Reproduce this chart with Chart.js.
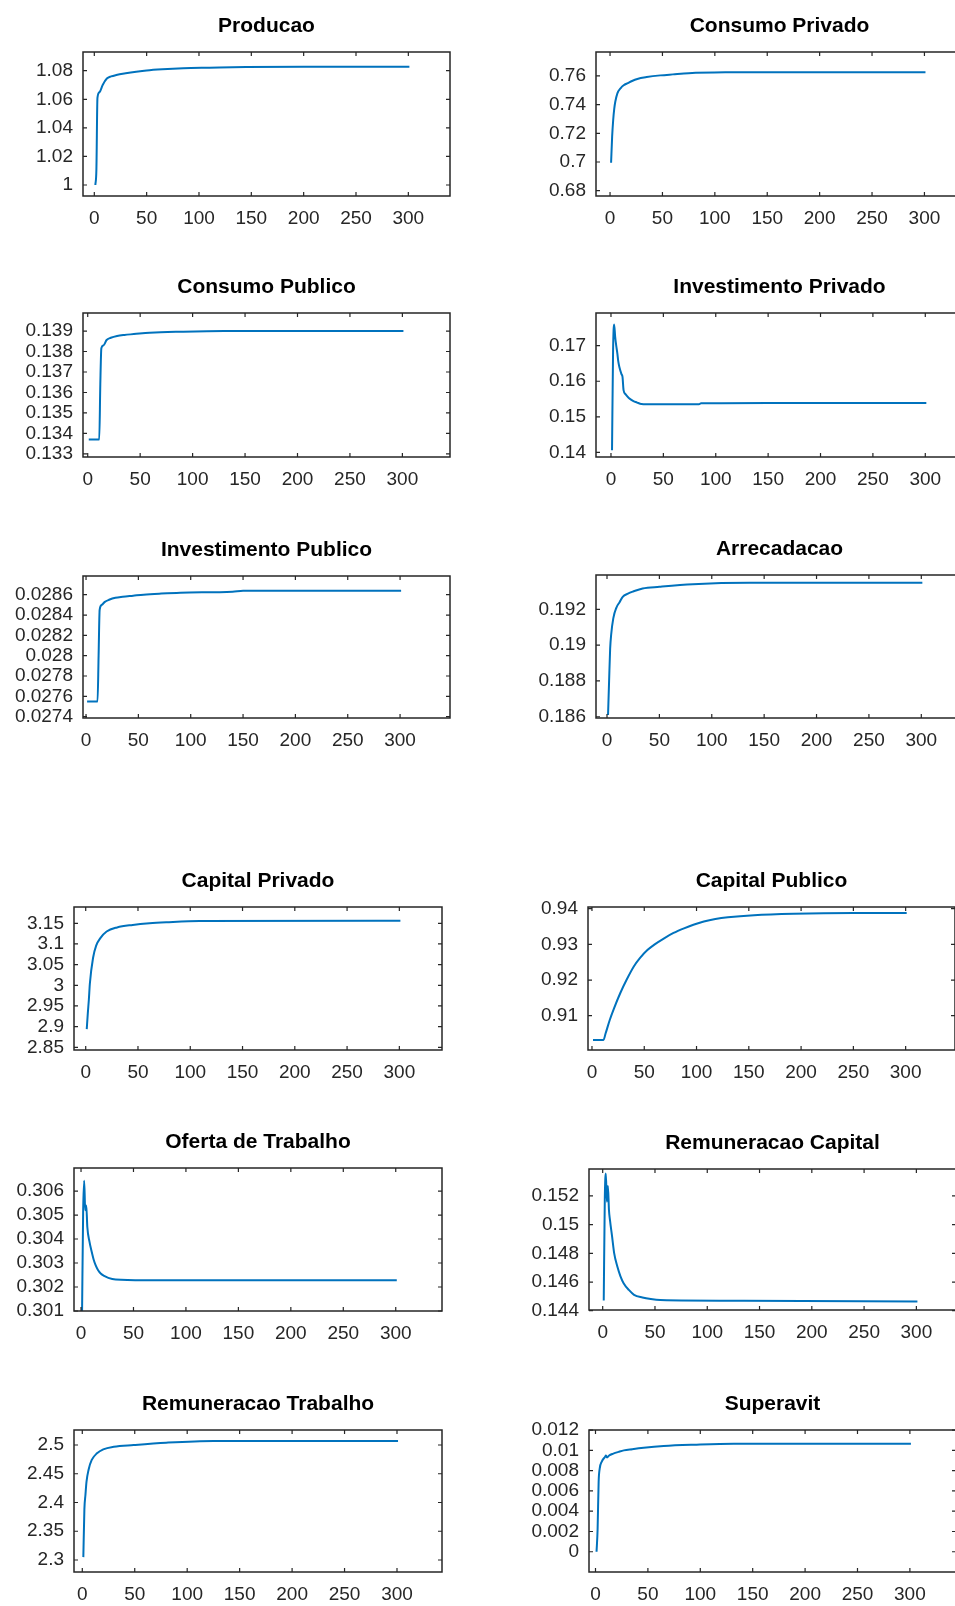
<!DOCTYPE html>
<html>
<head>
<meta charset="utf-8">
<title>Simulacao</title>
<script src="https://cdn.jsdelivr.net/npm/chart.js@4/dist/chart.umd.min.js"></script>
<style>
  html, body { margin: 0; padding: 0; background: #fff; overflow: hidden; }
  #page { position: relative; width: 955px; height: 1606px; overflow: hidden; }
  canvas { position: absolute; }
</style>
</head>
<body>
<div id="page"></div>
<script>
// periods on the x axis, same for every panel
var xTicks = [0, 50, 100, 150, 200, 250, 300];

// series (period, level)
var producaoX = [1, 2, 3, 5, 8, 12, 16, 21, 30, 40, 50, 65, 85, 110, 145, 200, 301];
var producaoY = [1.000, 1.011, 1.061, 1.065, 1.070, 1.0745, 1.0760, 1.0770, 1.0782, 1.0793, 1.0802, 1.0810, 1.0817, 1.0821, 1.0826, 1.0828, 1.0828];
var producaoTicks = [1, 1.02, 1.04, 1.06, 1.08];

var consumoPrivadoX = [1, 2, 3, 4, 5, 7, 10, 13, 17, 21, 26, 35, 48, 60, 75, 110, 150, 301];
var consumoPrivadoY = [0.6995, 0.7177, 0.7293, 0.7370, 0.7420, 0.7479, 0.7514, 0.7535, 0.7550, 0.7565, 0.7579, 0.7592, 0.7604, 0.7611, 0.7619, 0.7625, 0.7626, 0.7626];
var consumoPrivadoTicks = [0.68, 0.7, 0.72, 0.74, 0.76];

var consumoPublicoX = [1, 11, 12, 13, 15, 18, 22, 28, 35, 44, 59, 91, 130, 301];
var consumoPublicoY = [0.1337, 0.1337, 0.1364, 0.13816, 0.1383, 0.13856, 0.13867, 0.13876, 0.13881, 0.13885, 0.13892, 0.13897, 0.1390, 0.1390];
var consumoPublicoTicks = [0.133, 0.134, 0.135, 0.136, 0.137, 0.138, 0.139];

var investPrivadoX = [1, 2, 3, 4, 5, 6, 7, 8, 10, 11, 12, 14, 17, 21, 25, 29, 40, 60, 84, 86, 150, 301];
var investPrivadoY = [0.1406, 0.1686, 0.1760, 0.1725, 0.1700, 0.1680, 0.1655, 0.1640, 0.1620, 0.1612, 0.1575, 0.1563, 0.1553, 0.1545, 0.1540, 0.1536, 0.1535, 0.1535, 0.1535, 0.1538, 0.1539, 0.1539];
var investPrivadoTicks = [0.14, 0.15, 0.16, 0.17];

var investPublicoX = [1, 11, 12, 13, 15, 18, 22, 28, 35, 45, 55, 70, 90, 140, 150, 301];
var investPublicoY = [0.02755, 0.02755, 0.0280, 0.02845, 0.0285, 0.02853, 0.02855, 0.02857, 0.02858, 0.02859, 0.0286, 0.02861, 0.02862, 0.02863, 0.02864, 0.02864];
var investPublicoTicks = [0.0274, 0.0276, 0.0278, 0.028, 0.0282, 0.0284, 0.0286];

var arrecadacaoX = [1, 2, 3, 4, 6, 9, 12, 15, 20, 25, 34, 50, 82, 136, 301];
var arrecadacaoY = [0.1861, 0.1880, 0.1898, 0.1906, 0.1915, 0.1921, 0.1924, 0.1927, 0.19288, 0.1930, 0.19317, 0.19326, 0.1934, 0.19348, 0.19348];
var arrecadacaoTicks = [0.186, 0.188, 0.19, 0.192];

var capitalPrivadoX = [1, 2, 3, 4, 7, 10, 14, 20, 30, 45, 61, 77, 109, 301];
var capitalPrivadoY = [2.894, 2.932, 2.965, 3.005, 3.066, 3.096, 3.114, 3.130, 3.140, 3.146, 3.150, 3.1524, 3.1556, 3.1563];
var capitalPrivadoTicks = [2.85, 2.9, 2.95, 3, 3.05, 3.1, 3.15];

var capitalPublicoX = [1, 11, 13, 17, 21, 27, 33, 40, 46, 53, 60, 69, 78, 88, 97, 107, 118, 130, 155, 193, 250, 301];
var capitalPublicoY = [0.9032, 0.9032, 0.9050, 0.9088, 0.9120, 0.9163, 0.9200, 0.9238, 0.9262, 0.9284, 0.9300, 0.9317, 0.9332, 0.9345, 0.9355, 0.9364, 0.9371, 0.9376, 0.9382, 0.9386, 0.9388, 0.9388];
var capitalPublicoTicks = [0.91, 0.92, 0.93, 0.94];

var ofertaX = [1, 2, 3, 4, 5, 6, 8, 10, 12, 14, 16, 19, 22, 26, 33, 60, 301];
var ofertaY = [0.3010, 0.3051, 0.30643, 0.30520, 0.30540, 0.3045, 0.3039, 0.3035, 0.30315, 0.3029, 0.30272, 0.30255, 0.30246, 0.30238, 0.30231, 0.30228, 0.30228];
var ofertaTicks = [0.301, 0.302, 0.303, 0.304, 0.305, 0.306];

var remCapitalX = [1, 2, 3, 4, 5, 6, 7, 9, 11, 14, 17, 20, 25, 30, 38, 46, 55, 135, 301];
var remCapitalY = [0.14472, 0.15172, 0.15357, 0.1516, 0.1527, 0.1510, 0.1503, 0.14917, 0.1480, 0.14708, 0.1464, 0.14592, 0.14545, 0.14511, 0.14492, 0.14481, 0.14474, 0.14469, 0.14465];
var remCapitalTicks = [0.144, 0.146, 0.148, 0.15, 0.152];

var remTrabalhoX = [1, 2, 3, 4, 6, 9, 14, 20, 30, 49, 80, 125, 301];
var remTrabalhoY = [2.305, 2.388, 2.413, 2.436, 2.457, 2.474, 2.4855, 2.4925, 2.497, 2.500, 2.504, 2.507, 2.507];
var remTrabalhoTicks = [2.3, 2.35, 2.4, 2.45, 2.5];

var superavitX = [1, 2, 3, 4, 6, 9, 10, 11, 13, 17, 22, 27, 35, 46, 65, 94, 132, 301];
var superavitY = [0.0, 0.0022, 0.0069, 0.0082, 0.0089, 0.00935, 0.0095, 0.0093, 0.0095, 0.00968, 0.00985, 0.0100, 0.01012, 0.01026, 0.01043, 0.01056, 0.01066, 0.01066];
var superavitTicks = [0, 0.002, 0.004, 0.006, 0.008, 0.01, 0.012];

// plot boxes: left/top/width/height in page px, axis limits
var panels = [
  { title: 'Producao', xs: producaoX, ys: producaoY, yt: producaoTicks,
    left: 83, top: 52, w: 367, h: 144, xmin: -10.8, xmax: 339.8, ymin: 0.9923, ymax: 1.0931 },
  { title: 'Consumo Privado', xs: consumoPrivadoX, ys: consumoPrivadoY, yt: consumoPrivadoTicks,
    left: 596, top: 52, w: 367, h: 144, xmin: -13.4, xmax: 336.8, ymin: 0.6763, ymax: 0.7767 },
  { title: 'Consumo Publico', xs: consumoPublicoX, ys: consumoPublicoY, yt: consumoPublicoTicks,
    left: 83, top: 313, w: 367, h: 144, xmin: -4.5, xmax: 345.4, ymin: 0.13285, ymax: 0.13988 },
  { title: 'Investimento Privado', xs: investPrivadoX, ys: investPrivadoY, yt: investPrivadoTicks,
    left: 596, top: 313, w: 367, h: 144, xmin: -14.3, xmax: 336, ymin: 0.13868, ymax: 0.17921 },
  { title: 'Investimento Publico', xs: investPublicoX, ys: investPublicoY, yt: investPublicoTicks,
    left: 83, top: 576, w: 367, h: 142, xmin: -2.9, xmax: 347.7, ymin: 0.027387, ymax: 0.028784 },
  { title: 'Arrecadacao', xs: arrecadacaoX, ys: arrecadacaoY, yt: arrecadacaoTicks,
    left: 596, top: 575, w: 367, h: 143, xmin: -10.5, xmax: 339.8, ymin: 0.18593, ymax: 0.19392 },
  { title: 'Capital Privado', xs: capitalPrivadoX, ys: capitalPrivadoY, yt: capitalPrivadoTicks,
    left: 74, top: 907, w: 368, h: 143, xmin: -11.2, xmax: 340.8, ymin: 2.8435, ymax: 3.1894 },
  { title: 'Capital Publico', xs: capitalPublicoX, ys: capitalPublicoY, yt: capitalPublicoTicks,
    left: 588, top: 907, w: 367, h: 143, xmin: -3.8, xmax: 347.2, ymin: 0.90039, ymax: 0.94048 },
  { title: 'Oferta de Trabalho', xs: ofertaX, ys: ofertaY, yt: ofertaTicks,
    left: 74, top: 1168, w: 368, h: 143, xmin: -6.7, xmax: 344.1, ymin: 0.301, ymax: 0.30696 },
  { title: 'Remuneracao Capital', xs: remCapitalX, ys: remCapitalY, yt: remCapitalTicks,
    left: 589, top: 1169, w: 367, h: 141, xmin: -13.1, xmax: 337.9, ymin: 0.14405, ymax: 0.15388 },
  { title: 'Remuneracao Trabalho', xs: remTrabalhoX, ys: remTrabalhoY, yt: remTrabalhoTicks,
    left: 74, top: 1430, w: 368, h: 142, xmin: -7.9, xmax: 342.9, ymin: 2.2791, ymax: 2.5261 },
  { title: 'Superavit', xs: superavitX, ys: superavitY, yt: superavitTicks,
    left: 589, top: 1430, w: 367, h: 142, xmin: -6.2, xmax: 344, ymin: -0.001997, ymax: 0.01201 }
];

var YW = 80, TH = 42, XH = 40, RP = 4;
var INK = '#262626';

// octave style box with inward ticks on all four sides
var boxPlugin = {
  id: 'box',
  afterDraw: function(chart) {
    var ctx = chart.ctx, a = chart.chartArea;
    var sx = chart.scales.x, sy = chart.scales.y;
    ctx.save();
    ctx.strokeStyle = INK;
    ctx.lineWidth = 1.5;
    ctx.strokeRect(a.left, a.top, a.right - a.left, a.bottom - a.top);
    ctx.beginPath();
    sx.ticks.forEach(function(t) {
      var px = sx.getPixelForValue(t.value);
      ctx.moveTo(px, a.bottom); ctx.lineTo(px, a.bottom - 4);
      ctx.moveTo(px, a.top); ctx.lineTo(px, a.top + 4);
    });
    sy.ticks.forEach(function(t) {
      var py = sy.getPixelForValue(t.value);
      ctx.moveTo(a.left, py); ctx.lineTo(a.left + 4, py);
      ctx.moveTo(a.right, py); ctx.lineTo(a.right - 4, py);
    });
    ctx.lineWidth = 1.2;
    ctx.stroke();
    ctx.restore();
  }
};

var page = document.getElementById('page');

panels.forEach(function(p) {
  var cv = document.createElement('canvas');
  cv.width = YW + p.w + RP;
  cv.height = TH + p.h + XH;
  cv.style.left = (p.left - YW) + 'px';
  cv.style.top = (p.top - TH) + 'px';
  page.appendChild(cv);

  var pts = p.xs.map(function(x, i) { return { x: x, y: p.ys[i] }; });

  new Chart(cv.getContext('2d'), {
    type: 'line',
    data: {
      datasets: [{
        data: pts,
        borderColor: '#0072BD',
        borderWidth: 2,
        pointRadius: 0,
        cubicInterpolationMode: 'monotone',
        fill: false
      }]
    },
    options: {
      responsive: false,
      animation: false,
      devicePixelRatio: 1,
      layout: { padding: { left: 0, right: RP, top: 0, bottom: 0 } },
      plugins: {
        legend: { display: false },
        tooltip: { enabled: false },
        title: {
          display: true,
          text: p.title,
          fullSize: false,
          color: '#000',
          font: { family: 'Liberation Sans', size: 21, weight: 'bold', lineHeight: '24px' },
          padding: { top: 4, bottom: 14 }
        }
      },
      scales: {
        x: {
          type: 'linear',
          min: p.xmin,
          max: p.xmax,
          grid: { display: false, drawTicks: false },
          border: { display: false },
          afterBuildTicks: function(s) { s.ticks = xTicks.map(function(v) { return { value: v }; }); },
          afterFit: function(s) { s.height = XH; },
          ticks: {
            color: INK,
            padding: 11,
            autoSkip: false,
            maxRotation: 0,
            font: { family: 'Liberation Sans', size: 19 },
            callback: function(v) { return String(v); }
          }
        },
        y: {
          type: 'linear',
          min: p.ymin,
          max: p.ymax,
          grid: { display: false, drawTicks: false },
          border: { display: false },
          afterBuildTicks: function(s) { s.ticks = p.yt.map(function(v) { return { value: v }; }); },
          afterFit: function(s) { s.width = YW; },
          ticks: {
            color: INK,
            padding: 10,
            autoSkip: false,
            font: { family: 'Liberation Sans', size: 19 },
            callback: function(v) { return String(v); }
          }
        }
      }
    },
    plugins: [boxPlugin]
  });
});
</script>
</body>
</html>
